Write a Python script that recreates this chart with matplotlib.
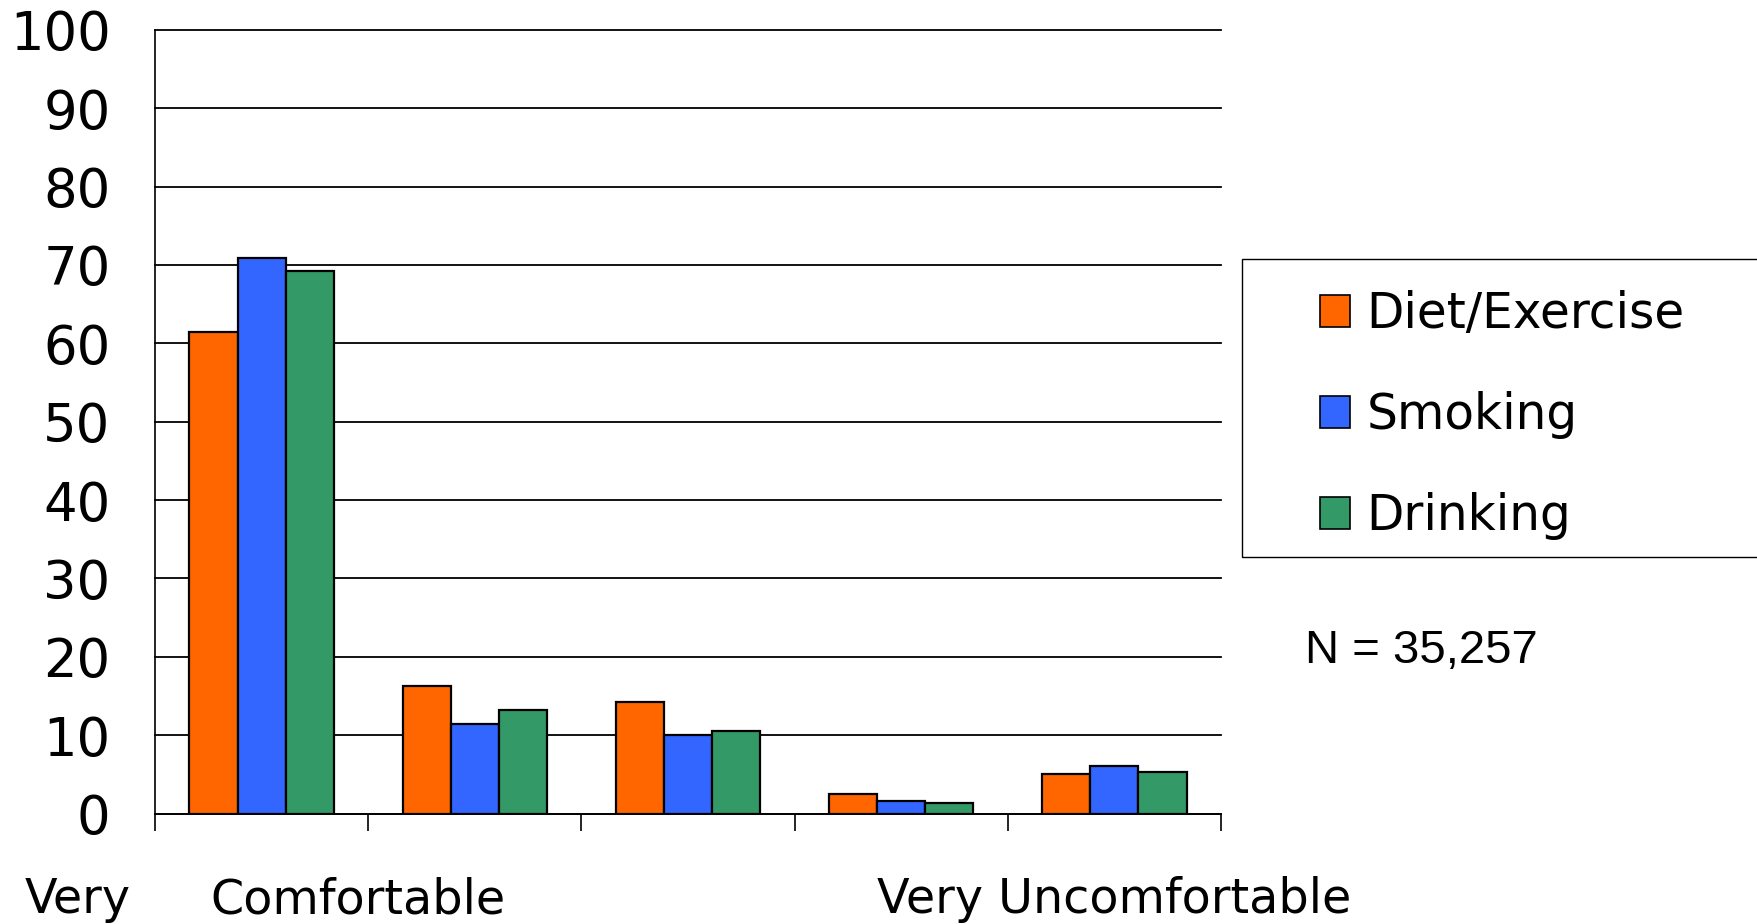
import matplotlib
matplotlib.use("Agg")
import matplotlib.pyplot as plt
from matplotlib.patches import Rectangle, Patch
import numpy as np

categories = ["Very Comfortable", "2", "3", "4", "Very Uncomfortable"]
diet_exercise = [61.5, 16.3, 14.2, 2.5, 5.1]
smoking = [70.9, 11.4, 10.0, 1.6, 6.0]
drinking = [69.2, 13.2, 10.5, 1.4, 5.3]
series_names = ["Diet/Exercise", "Smoking", "Drinking"]
series_colors = ["#FF6600", "#3366FF", "#339966"]
y_ticks = [0, 10, 20, 30, 40, 50, 60, 70, 80, 90, 100]

W, H = 1757, 924
DPI = 100
fig = plt.figure(figsize=(W / DPI, H / DPI), dpi=DPI)
fig.patch.set_facecolor("white")
plt.rcParams['font.family'] = ['DejaVu Sans']

def fx(px):
    return px / W

def fy(py):
    return 1 - py / H

ax = fig.add_axes([fx(155), fy(813.5), fx(1221) - fx(155), fy(29.8) - fy(813.5)])

x = np.arange(len(categories))
bw = 0.226
for i, (vals, col, name) in enumerate(zip([diet_exercise, smoking, drinking], series_colors, series_names)):
    ax.bar(x + (i - 1) * bw, vals, width=bw, color=col, edgecolor="black",
           linewidth=1.6, label=name, zorder=3)

ax.set_xlim(-0.5, len(categories) - 0.5)
ax.set_ylim(0, 100)
ax.set_yticks(y_ticks)
ax.set_yticklabels([str(t) for t in y_ticks], fontsize=38)
ax.tick_params(axis='y', length=0, pad=32)
ax.set_xticks(np.arange(-0.5, len(categories), 1.0))
ax.set_xticklabels([])
ax.tick_params(axis='x', length=12.2, width=1.2, direction='out', color='black')

for s in ["top", "right"]:
    ax.spines[s].set_visible(False)
for s in ["left", "bottom"]:
    ax.spines[s].set_color("black")
    ax.spines[s].set_linewidth(1.2)
    ax.spines[s].set_zorder(4)

ax.yaxis.grid(True, color="black", linewidth=1.3, zorder=0)
ax.set_axisbelow(True)
for gl in ax.get_ygridlines():
    gl.set_clip_on(False)

# bottom labels
fig.text(fx(25), fy(913), "Very", fontsize=34.3, ha='left', va='baseline')
fig.text(fx(210), fy(913), "Comfortable", fontsize=34.3, ha='left', va='baseline')
fig.text(fx(877), fy(913), "Very Uncomfortable", fontsize=34.3, ha='left', va='baseline')

# legend box
fig.patches.append(Rectangle((fx(1242), fy(557)), fx(1800) - fx(1242), fy(259) - fy(557),
                             transform=fig.transFigure, fill=False, edgecolor='black',
                             linewidth=1.0, clip_on=False))
handles = [Patch(facecolor=c, edgecolor='black', linewidth=1.2) for c in series_colors]
fig.legend(handles, series_names, loc='upper left',
           bbox_to_anchor=(fx(1320), fy(290)), frameon=False, fontsize=35,
           handlelength=0.62, handleheight=0.62, handletextpad=0.34,
           labelspacing=1.09, borderpad=0, borderaxespad=0)

fig.text(fx(1305), fy(663), "N = 35,257", fontsize=34, family=['Liberation Sans'],
         ha='left', va='baseline')

fig.savefig("out.png", dpi=DPI)
